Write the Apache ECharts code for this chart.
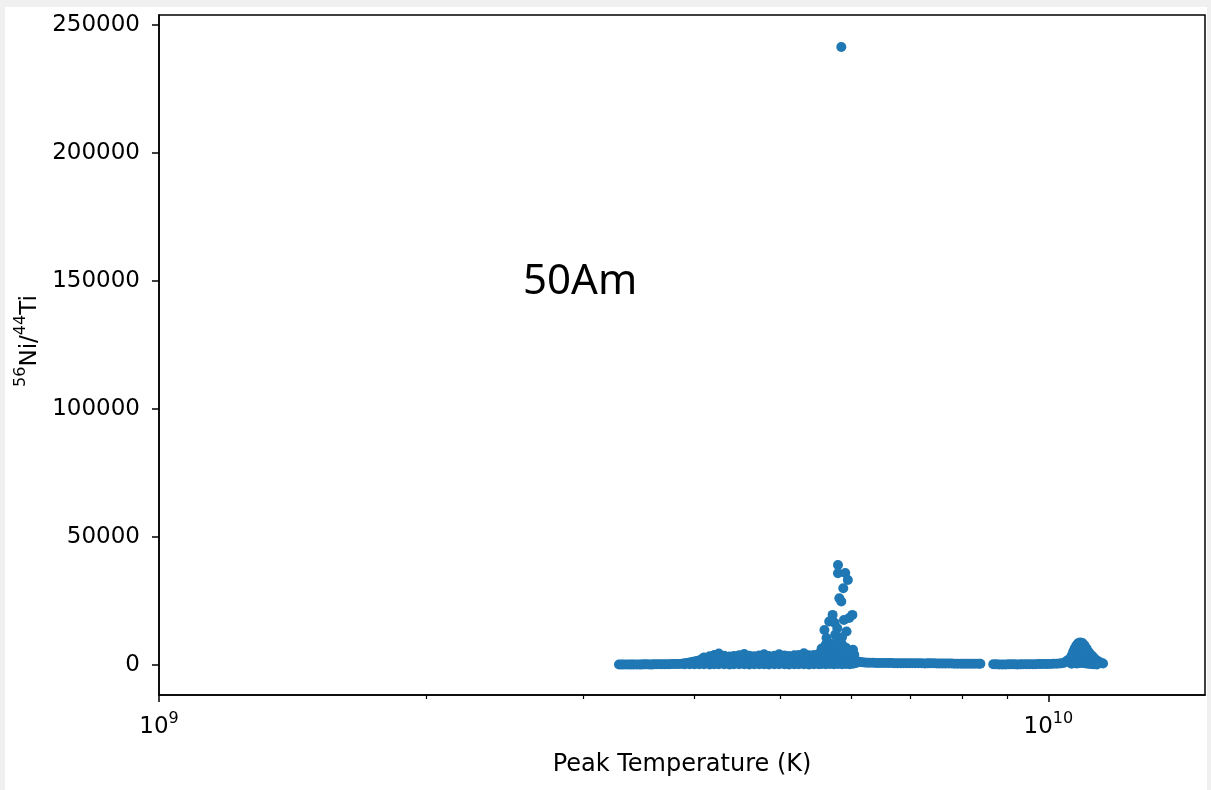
<!DOCTYPE html>
<html>
<head>
<meta charset="utf-8">
<script src="https://cdn.jsdelivr.net/npm/echarts@6/dist/echarts.min.js"></script>
<style>
  html, body { margin: 0; padding: 0; background: #f0f0f0; }
  #chart { position: absolute; left: 5px; top: 7px; width: 1202px; height: 783px; background: #fff; }
</style>
</head>
<body>
<div id="chart"></div>
<script>
// temperatures in GK (x1e9 K), ratios 56Ni/44Ti

// cool end of the band, one row of points
const coolBand = [
  [3.29, 120], [3.31, 140], [3.33, 150], [3.355, 140], [3.38, 130], [3.40, 150],
  [3.42, 160], [3.445, 150], [3.47, 140], [3.49, 160], [3.51, 180], [3.535, 170],
  [3.56, 150], [3.58, 160], [3.60, 170], [3.625, 190], [3.65, 200], [3.675, 210],
  [3.70, 220], [3.725, 240], [3.75, 260], [3.775, 280], [3.80, 300], [3.825, 320],
  [3.85, 350], [3.875, 450], [3.90, 200], [3.90, 600], [3.925, 700], [3.95, 200],
  [3.95, 900], [3.975, 1100], [4.00, 200], [4.00, 1300], [4.025, 1500],
  [4.05, 200], [4.05, 1700], [4.075, 2200]
];

// thicker part of the band, 4.1 - 5.5 GK
const coreT    = [4.10, 4.16, 4.21, 4.26, 4.32, 4.38, 4.43, 4.49, 4.55, 4.61, 4.67, 4.73,
                  4.79, 4.85, 4.92, 4.98, 5.05, 5.11, 5.18, 5.24, 5.31, 5.38, 5.45, 5.52];
const coreTop  = [2900, 3300, 3800, 4400, 3500, 3200, 3400, 3700, 4200, 3500, 3300, 3600,
                  4100, 3400, 3500, 4100, 3600, 3400, 3700, 3800, 4500, 3700, 3800, 4300];
const coreMid  = [1400, 1600, 1700, 1800, 1600, 1500, 1600, 1700, 1900, 1600, 1500, 1700,
                  1800, 1600, 1600, 1800, 1700, 1600, 1700, 1800, 2000, 1700, 1800, 1900];
const coreBase = [200, 150, 200, 250, 200, 150, 200, 250, 200, 150, 200, 250,
                  200, 150, 200, 250, 200, 150, 200, 250, 200, 150, 200, 250];

// dense cluster at the foot of the spike
const spikeCluster = [
  [5.56, 300], [5.56, 1800], [5.56, 3300], [5.56, 4800], [5.56, 6400],
  [5.62, 200], [5.62, 1700], [5.62, 3200], [5.62, 4700], [5.62, 6200], [5.62, 7900],
  [5.68, 300], [5.68, 1900], [5.68, 3400], [5.68, 5000], [5.68, 6600], [5.68, 8300],
  [5.74, 200], [5.74, 1700], [5.74, 3300], [5.74, 4900], [5.74, 6500], [5.74, 8100],
  [5.80, 300], [5.80, 1800], [5.80, 3400], [5.80, 5000], [5.80, 6600], [5.80, 8400],
  [5.86, 200], [5.86, 1700], [5.86, 3200], [5.86, 4800], [5.86, 6400], [5.86, 8000],
  [5.92, 300], [5.92, 1800], [5.92, 3300], [5.92, 4900], [5.92, 6700],
  [5.98, 200], [5.98, 1600], [5.98, 3000], [5.98, 4300],
  [6.03, 400], [6.03, 1500], [6.03, 5900], [6.08, 700]
];

// scattered points of the spike
const spikePoints = [
  [5.80, 39000], [5.80, 35800], [5.91, 35900], [5.95, 33100], [5.88, 29900],
  [5.82, 26000], [5.85, 24700], [5.72, 19500], [6.02, 19500], [5.97, 18300],
  [5.67, 16900], [5.89, 17500], [5.75, 16400], [5.60, 13600], [5.79, 14300],
  [5.93, 13000], [5.63, 10500], [5.86, 10800], [5.76, 11800], [6.05, 3900]
];

// thin band after the spike
const hotBand = [
  [6.13, 1200], [6.17, 1000], [6.21, 900], [6.255, 850], [6.30, 800], [6.35, 780],
  [6.40, 750], [6.45, 720], [6.50, 700], [6.555, 700], [6.61, 700], [6.66, 680],
  [6.71, 650], [6.765, 650], [6.82, 650], [6.87, 620], [6.92, 600], [6.975, 620],
  [7.03, 650], [7.085, 620], [7.14, 600], [7.20, 580], [7.26, 550], [7.315, 570],
  [7.37, 600], [7.43, 580], [7.49, 550], [7.545, 520], [7.60, 500], [7.66, 500],
  [7.72, 500], [7.78, 480], [7.84, 450], [7.905, 450], [7.97, 450], [8.03, 420],
  [8.09, 400], [8.15, 400], [8.21, 400], [8.275, 400], [8.34, 400], [8.385, 380],
  [8.67, 200], [8.74, 180], [8.81, 150], [8.88, 150], [8.95, 150], [9.02, 170],
  [9.09, 200], [9.16, 180], [9.23, 150], [9.30, 170], [9.37, 200], [9.445, 200],
  [9.52, 200], [9.595, 220], [9.67, 250], [9.745, 270], [9.82, 300], [9.895, 300],
  [9.97, 300], [10.05, 350], [10.13, 400], [10.21, 450], [10.29, 500], [10.355, 650],
  [10.42, 800]
];

// small bump near 1.1e10
const bump = [
  [10.48, 1500], [10.55, 2200], [10.62, 3500], [10.66, 5000], [10.70, 6300], [10.75, 7500],
  [10.80, 8400], [10.86, 8700], [10.92, 8500], [10.98, 7600], [11.04, 6400], [11.10, 5000],
  [11.16, 4000], [11.22, 3200], [11.28, 2300], [11.34, 1700], [11.40, 1200], [11.46, 800],
  [11.52, 500],
  [10.62, 400], [10.66, 1500], [10.70, 1200], [10.70, 3500], [10.75, 500], [10.75, 2500],
  [10.75, 4800], [10.80, 600], [10.80, 3000], [10.80, 5800], [10.86, 700], [10.86, 3200],
  [10.86, 6000], [10.92, 800], [10.92, 3000], [10.92, 5800], [10.98, 600], [10.98, 2800],
  [10.98, 5000], [11.04, 500], [11.04, 2500], [11.10, 400], [11.10, 2200], [11.16, 300],
  [11.16, 1800], [11.22, 200], [11.28, 200], [11.34, 100]
];

const outlier = [[5.85, 241400]];

const xMajorTicks = [1e9, 1e10];
const xMinorTicks = [2e9, 3e9, 4e9, 5e9, 6e9, 7e9, 8e9, 9e9];
const yTicks = [0, 50000, 100000, 150000, 200000, 250000];

const chart = echarts.init(document.getElementById('chart'));
const font = 'DejaVu Sans';

let core = [];
coreT.forEach((t, i) => {
  core.push([t, coreBase[i]], [t, coreMid[i]], [t, coreTop[i]]);
});
const points = [].concat(coolBand, core, spikeCluster, spikePoints, hotBand, bump, outlier)
  .map(p => [p[0] * 1e9, p[1]]);

const axisColor = '#000';

const option = {
  animation: false,
  backgroundColor: '#fff',
  grid: {
    left: 154, right: 2, top: 8, bottom: 95,
    show: true, borderColor: axisColor, borderWidth: 1.5, containLabel: false
  },
  xAxis: [
    {
      type: 'log', logBase: 10, min: 1e9, max: 1.5e10, position: 'bottom',
      name: 'Peak Temperature (K)', nameLocation: 'middle', nameGap: 58,
      nameTextStyle: { fontFamily: font, fontSize: 24, color: '#000' },
      axisLine: { show: true, onZero: false, lineStyle: { color: axisColor, width: 1.5 } },
      axisTick: { show: true, length: 7, lineStyle: { color: axisColor, width: 1.5 }, customValues: xMajorTicks },
      axisLabel: {
        customValues: xMajorTicks, margin: 16,
        formatter: function (v) {
          return '{b|10}{sup|' + Math.round(Math.log10(v)) + '}';
        },
        rich: {
          b: { fontFamily: font, fontSize: 23, color: '#000', verticalAlign: 'bottom', lineHeight: 28 },
          sup: { fontFamily: font, fontSize: 16, color: '#000', verticalAlign: 'top', lineHeight: 16 }
        }
      },
      splitLine: { show: false }
    },
    {
      type: 'log', logBase: 10, min: 1e9, max: 1.5e10, position: 'bottom',
      axisLine: { show: false, onZero: false },
      axisTick: { show: true, length: 4, lineStyle: { color: axisColor, width: 1.2 }, customValues: xMinorTicks },
      axisLabel: { show: false },
      splitLine: { show: false }
    }
  ],
  yAxis: {
    type: 'value', min: -11800, max: 253900,
    name: '{s|56}{n|Ni/}{s|44}{n|Ti}', nameLocation: 'middle', nameRotate: 90, nameGap: 112,
    nameTextStyle: {
      padding: [0, 0, 0, 28],
      rich: {
        n: { fontFamily: font, fontSize: 23, color: '#000', verticalAlign: 'bottom', lineHeight: 28 },
        s: { fontFamily: font, fontSize: 16, color: '#000', verticalAlign: 'top', lineHeight: 16 }
      }
    },
    axisLine: { show: true, onZero: false, lineStyle: { color: axisColor, width: 1.5 } },
    axisTick: { show: true, length: 7, lineStyle: { color: axisColor, width: 1.5 }, customValues: yTicks },
    axisLabel: {
      customValues: yTicks, margin: 19, fontFamily: font, fontSize: 23, color: '#000',
      formatter: v => String(v)
    },
    splitLine: { show: false }
  },
  series: [
    {
      type: 'scatter',
      data: points,
      symbol: 'circle',
      symbolSize: 10,
      itemStyle: { color: '#1f77b4', opacity: 1 }
    }
  ],
  graphic: [
    {
      type: 'text', x: 518, y: 275,
      style: { text: '50Am', fontFamily: 'Noto Sans', fontSize: 42, fill: '#000', verticalAlign: 'middle', align: 'left' }
    }
  ]
};

chart.setOption(option);
</script>
</body>
</html>
